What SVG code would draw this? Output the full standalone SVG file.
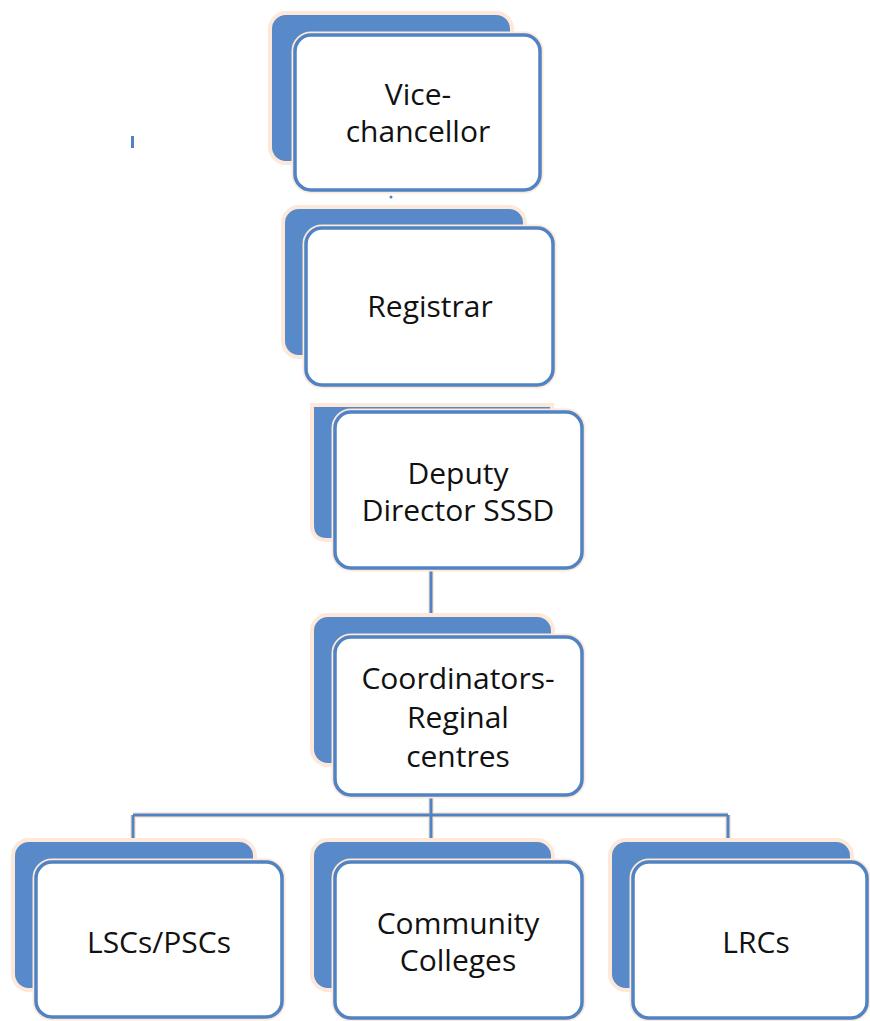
<svg xmlns="http://www.w3.org/2000/svg" width="870" height="1021" viewBox="0 0 870 1021">
<style>
.back{fill:#5889C8;stroke:#FDE8DA;stroke-width:4}
.halo{fill:none;stroke:#FDE8DA;stroke-width:7}
.front{fill:#FFFFFF;stroke:#4F83C4;stroke-width:3.5}
.ch{fill:none;stroke:#FDE8DA;stroke-width:6}
.cl{fill:none;stroke:#4F83C4;stroke-width:3}
text{font-family:"Open Sans","Liberation Sans",sans-serif;font-size:30px;fill:#111111;text-anchor:middle}
</style>
<rect width="870" height="1021" fill="#FFFFFF"/>
<g id="connectors">
<path class="ch" d="M431,570 V613 M431,797 V815 M133,815 H728 M133,815 V840 M431,815 V840 M728,815 V840"/>
<path class="cl" d="M431,570 V613 M431,797 V815 M133,815 H728 M133,815 V840 M431,815 V840 M728,815 V840"/>
<circle cx="391" cy="197" r="1.5" fill="#4F83C4"/>
<rect x="131" y="136" width="3" height="12" fill="#4F83C4"/>
</g>
<g id="n1">
<rect class="back" x="270" y="13" width="242" height="150" rx="16"/>
<rect class="halo" x="295" y="35" width="245" height="155" rx="16"/>
<rect class="front" x="295" y="35" width="245" height="155" rx="16"/>
<text x="418" y="105">Vice-</text>
<text x="418" y="142">chancellor</text>
</g>
<g id="n2">
<rect class="back" x="283" y="207" width="242" height="150" rx="16"/>
<rect class="halo" x="306" y="228" width="247" height="157" rx="16"/>
<rect class="front" x="306" y="228" width="247" height="157" rx="16"/>
<text x="430" y="317">Registrar</text>
</g>
<g id="n3">
<path class="back" d="M312,405 H552 V525 Q552,540 537,540 H327 Q312,540 312,525 Z"/>
<rect class="halo" x="335" y="412" width="247" height="156" rx="16"/>
<rect class="front" x="335" y="412" width="247" height="156" rx="16"/>
<text x="458" y="484">Deputy</text>
<text x="458" y="521">Director SSSD</text>
</g>
<g id="n4">
<rect class="back" x="312" y="615" width="241" height="150" rx="16"/>
<rect class="halo" x="335" y="637" width="247" height="158" rx="16"/>
<rect class="front" x="335" y="637" width="247" height="158" rx="16"/>
<text x="458" y="689">Coordinators-</text>
<text x="458" y="728">Reginal</text>
<text x="458" y="767">centres</text>
</g>
<g id="n5">
<rect class="back" x="13" y="840" width="242" height="150" rx="16"/>
<rect class="halo" x="36" y="862" width="246" height="155" rx="16"/>
<rect class="front" x="36" y="862" width="246" height="155" rx="16"/>
<text x="159" y="953">LSCs/PSCs</text>
</g>
<g id="n6">
<rect class="back" x="312" y="840" width="241" height="150" rx="16"/>
<rect class="halo" x="335" y="862" width="247" height="156" rx="16"/>
<rect class="front" x="335" y="862" width="247" height="156" rx="16"/>
<text x="458" y="934">Community</text>
<text x="458" y="971">Colleges</text>
</g>
<g id="n7">
<rect class="back" x="610" y="840" width="242" height="150" rx="16"/>
<rect class="halo" x="633" y="862" width="234" height="156" rx="16"/>
<rect class="front" x="633" y="862" width="234" height="156" rx="16"/>
<text x="756" y="953">LRCs</text>
</g>
</svg>
